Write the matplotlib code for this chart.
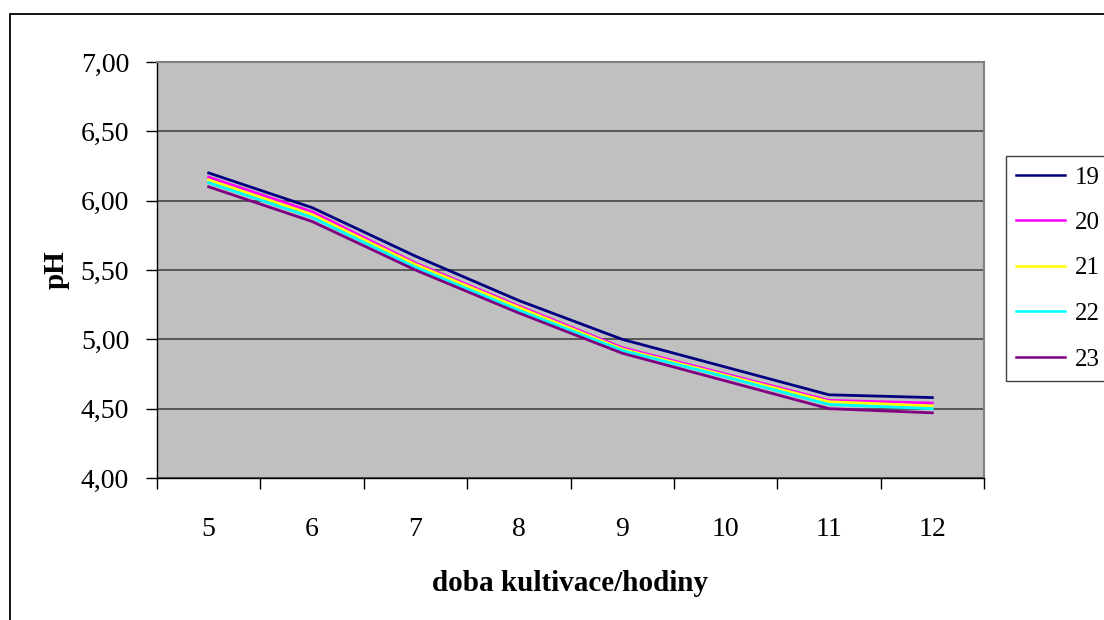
import matplotlib
matplotlib.use("Agg")
import matplotlib.pyplot as plt
from matplotlib.patches import Rectangle
from matplotlib.ticker import FixedLocator, FuncFormatter, NullFormatter

hours = ["5", "6", "7", "8", "9", "10", "11", "12"]
series_names = ["19", "20", "21", "22", "23"]
ph_19 = [6.20, 5.95, 5.60, 5.28, 5.00, 4.80, 4.60, 4.58]
ph_20 = [6.17, 5.92, 5.55, 5.24, 4.94, 4.75, 4.56, 4.54]
ph_21 = [6.15, 5.90, 5.54, 5.23, 4.93, 4.74, 4.55, 4.52]
ph_22 = [6.13, 5.88, 5.52, 5.21, 4.92, 4.73, 4.53, 4.50]
ph_23 = [6.10, 5.85, 5.50, 5.19, 4.90, 4.70, 4.50, 4.47]
y_ticks = [4.0, 4.5, 5.0, 5.5, 6.0, 6.5, 7.0]

series = [ph_19, ph_20, ph_21, ph_22, ph_23]
colors = ["#000080", "#FF00FF", "#FFFF00", "#00FFFF", "#800080"]

plt.rcParams['font.family'] = ['Liberation Serif', 'DejaVu Serif']

W, H = 1104, 620
fig = plt.figure(figsize=(W / 100, H / 100), dpi=100)
fig.patch.set_facecolor("white")

# outer chart border
fig.patches.append(Rectangle((10 / W, -0.05), 1.2, 1 - 14 / H + 0.05,
                             transform=fig.transFigure, fill=False,
                             edgecolor="black", linewidth=1.3))

ax = fig.add_axes([157 / W, 1 - 478 / H, (984 - 157) / W, (478 - 62) / H])
ax.set_facecolor("#C0C0C0")

x = list(range(1, len(hours) + 1))
for name, vals, c in zip(series_names, series, colors):
    ax.plot(x, vals, color=c, linewidth=2.0, label=name)

ax.set_xlim(0.5, len(hours) + 0.5)
ax.set_ylim(4.0, 7.0)

ax.yaxis.set_major_locator(FixedLocator(y_ticks))
ax.yaxis.set_major_formatter(FuncFormatter(lambda v, p: f"{v:.2f}".replace(".", ",")))
ax.grid(axis="y", color="#505050", linewidth=1.3)
ax.set_axisbelow(True)

ax.xaxis.set_major_locator(FixedLocator([i + 0.5 for i in range(0, len(hours) + 1)]))
ax.xaxis.set_major_formatter(NullFormatter())
ax.xaxis.set_minor_locator(FixedLocator(x))
ax.xaxis.set_minor_formatter(FuncFormatter(lambda v, p: hours[int(round(v)) - 1]))
ax.tick_params(axis="x", which="minor", length=0, pad=28, labelsize=20)
ax.tick_params(axis="x", which="major", length=8, width=1, direction="out", color="black")
ax.tick_params(axis="y", length=8, width=1, direction="out", labelsize=20, pad=12, color="black")

for s in ["top", "right"]:
    ax.spines[s].set_color("#808080")
    ax.spines[s].set_linewidth(1.5)
for s in ["left", "bottom"]:
    ax.spines[s].set_color("black")
    ax.spines[s].set_linewidth(1.0)

ax.set_xlabel("doba kultivace/hodiny", fontsize=21, fontweight="bold", labelpad=20)
ax.set_ylabel("pH", fontsize=21, fontweight="bold", labelpad=8)

leg = ax.legend(loc="upper left", bbox_to_anchor=(1006 / W, 1 - 156 / H),
                bbox_transform=fig.transFigure, fontsize=18, frameon=True,
                fancybox=False, edgecolor="#404040", facecolor="white",
                framealpha=1, borderaxespad=0, borderpad=0.4,
                labelspacing=0.92, handlelength=1.96, handletextpad=0.4)
leg.get_frame().set_linewidth(1.0)
for line in leg.get_lines():
    line.set_linewidth(1.8)

fig.savefig("out.png", dpi=100)
